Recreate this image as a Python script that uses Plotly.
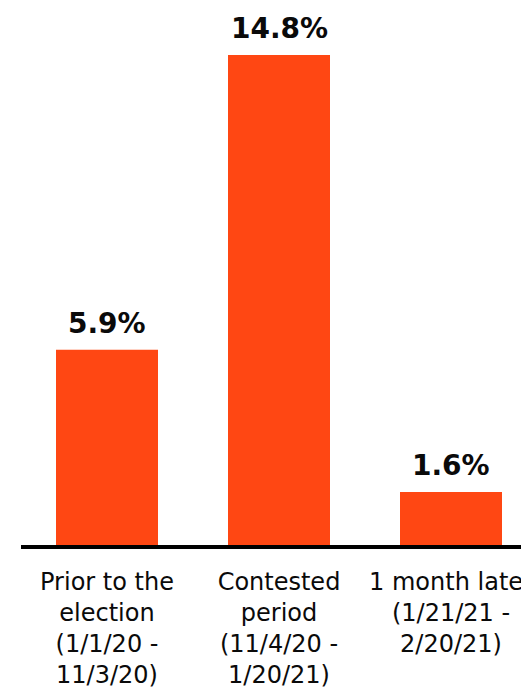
import plotly.graph_objects as go

categories = ["Prior to the<br>election<br>(1/1/20 -<br>11/3/20)",
              "Contested<br>period<br>(11/4/20 -<br>1/20/21)",
              "1 month later<br>(1/21/21 -<br>2/20/21)"]
values = [5.9, 14.8, 1.6]
value_labels = ["5.9%", "14.8%", "1.6%"]

bar_color = "#FF4713"
x_idx = [0, 1, 2]

fig = go.Figure()
fig.add_trace(go.Bar(x=x_idx, y=values, marker_color=bar_color, marker_line_width=0,
                     hoverinfo="skip"))

for xi, v, t in zip(x_idx, values, value_labels):
    fig.add_annotation(x=xi, y=v, text=f"<b>{t}</b>", showarrow=False,
                       yanchor="bottom", yshift=8,
                       font=dict(family="DejaVu Sans", size=28, color="#0a0a0a"))

fig.update_layout(
    width=529, height=690,
    margin=dict(l=13, r=0, t=0, b=153),
    paper_bgcolor="white", plot_bgcolor="white",
    bargap=0.407, showlegend=False,
    xaxis=dict(range=[-0.5, 2.5], tickmode="array", tickvals=x_idx, ticktext=categories,
               showline=True, linecolor="black", linewidth=4, showgrid=False,
               zeroline=False, ticks="", ticklabelstandoff=12, ticklabeloverflow="allow",
               tickfont=dict(family="DejaVu Sans", size=24, color="#0a0a0a")),
    yaxis=dict(range=[0, 16.22], visible=False, showgrid=False, zeroline=False),
)

fig.write_html("out.html")
